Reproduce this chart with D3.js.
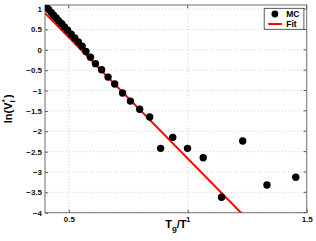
<!DOCTYPE html>
<html>
<head>
<meta charset="utf-8">
<script src="https://cdn.jsdelivr.net/npm/d3@7"></script>
<style>
  body { margin: 0; background: #fff; }
  svg { display: block; font-family: "Liberation Sans", Arial, sans-serif; }
</style>
</head>
<body>
<div id="chart"></div>
<script>
// MC points (Tg/T, ln V)
const mcX = [0.405, 0.415, 0.426, 0.436, 0.447, 0.458, 0.470, 0.482, 0.495, 0.510, 0.525, 0.540,
             0.556, 0.572, 0.591, 0.612, 0.638, 0.665, 0.693, 0.726, 0.759, 0.798, 0.840,
             0.886, 0.937, 0.999, 1.065, 1.142, 1.231, 1.333, 1.454];
const mcY = [1.05, 0.99, 0.92, 0.85, 0.78, 0.71, 0.64, 0.56, 0.48, 0.38, 0.29, 0.19,
             0.09, -0.04, -0.18, -0.34, -0.49, -0.67, -0.84, -1.06, -1.26, -1.46, -1.65,
             -2.42, -2.15, -2.42, -2.65, -3.62, -2.24, -3.32, -3.13];

// linear fit  y = a + b x
const fitA = 3.28;
const fitB = -5.95;
const fitRange = [0.4, 1.5];

const xTicks = [0.5, 1, 1.5];
const yTicks = [-4, -3.5, -3, -2.5, -2, -1.5, -1, -0.5, 0, 0.5, 1];

const width = 316, height = 241;
const margin = { top: 5, right: 9.3, bottom: 28.3, left: 45 };
const iw = width - margin.left - margin.right;
const ih = height - margin.top - margin.bottom;

const svg = d3.select("#chart").append("svg")
    .attr("width", width)
    .attr("height", height);

const x = d3.scaleLinear().domain([0.4, 1.5]).range([0, iw]);
const y = d3.scaleLinear().domain([-4, 1.1]).range([ih, 0]);

const g = svg.append("g").attr("transform", `translate(${margin.left},${margin.top})`);

svg.append("defs").append("clipPath").attr("id", "clip")
    .append("rect").attr("width", iw).attr("height", ih);

// grid
g.append("g").selectAll("line")
    .data(xTicks)
    .join("line")
    .attr("x1", d => x(d)).attr("x2", d => x(d))
    .attr("y1", 0).attr("y2", ih)
    .attr("stroke", "#c8c8c8").attr("stroke-width", 0.8)
    .attr("stroke-dasharray", "1,2");

g.append("g").selectAll("line")
    .data(yTicks)
    .join("line")
    .attr("x1", 0).attr("x2", iw)
    .attr("y1", d => y(d)).attr("y2", d => y(d))
    .attr("stroke", "#c8c8c8").attr("stroke-width", 0.8)
    .attr("stroke-dasharray", "1,2");

// axes
const fmt = d => (d < 0 ? "\u2212" + Math.abs(d) : String(d));
const xAxis = g.append("g").attr("transform", `translate(0,${ih})`)
    .call(d3.axisBottom(x).tickValues(xTicks).tickSize(-3).tickPadding(4).tickFormat(fmt));
const yAxis = g.append("g")
    .call(d3.axisLeft(y).tickValues(yTicks).tickSize(-3).tickPadding(3).tickFormat(fmt));
[xAxis, yAxis].forEach(a => {
    a.select(".domain").remove();
    a.selectAll(".tick line").attr("stroke", "#555");
    a.selectAll("text").attr("font-size", 8).attr("font-weight", "bold").attr("fill", "#111");
});
// top/right ticks
g.append("g").selectAll("line").data(xTicks).join("line")
    .attr("x1", d => x(d)).attr("x2", d => x(d)).attr("y1", 0).attr("y2", 3).attr("stroke", "#555");
g.append("g").selectAll("line").data(yTicks).join("line")
    .attr("x1", iw).attr("x2", iw - 3).attr("y1", d => y(d)).attr("y2", d => y(d)).attr("stroke", "#555");

// box
g.append("rect").attr("width", iw).attr("height", ih)
    .attr("fill", "none").attr("stroke", "#6e6e6e").attr("stroke-width", 1);

const plot = g.append("g").attr("clip-path", "url(#clip)");

// fit line
plot.append("line")
    .attr("x1", x(fitRange[0])).attr("y1", y(fitA + fitB * fitRange[0]))
    .attr("x2", x(fitRange[1])).attr("y2", y(fitA + fitB * fitRange[1]))
    .attr("stroke", "#ff0000").attr("stroke-width", 2);

// MC markers
const pts = mcX.map((v, i) => ({ x: v, y: mcY[i] }));
plot.append("g").selectAll("circle")
    .data(pts)
    .join("circle")
    .attr("cx", d => x(d.x))
    .attr("cy", d => y(d.y))
    .attr("r", 3.7)
    .attr("fill", "#000");

// legend
const lg = g.append("g").attr("transform", `translate(${iw - 42.5},3.3)`);
lg.append("rect").attr("width", 39.7).attr("height", 21)
    .attr("fill", "#fff").attr("stroke", "#333").attr("stroke-width", 0.8);
lg.append("circle").attr("cx", 10.7).attr("cy", 5.7).attr("r", 3.4).attr("fill", "#000");
lg.append("line").attr("x1", 4).attr("x2", 17.7).attr("y1", 15.7).attr("y2", 15.7)
    .attr("stroke", "#ff0000").attr("stroke-width", 2);
lg.append("text").attr("x", 22).attr("y", 8.8).text("MC")
    .attr("font-size", 8.5).attr("font-weight", "bold");
lg.append("text").attr("x", 22).attr("y", 18.8).text("Fit")
    .attr("font-size", 8.5).attr("font-weight", "bold");

// axis labels
const xl = svg.append("text")
    .attr("x", margin.left + iw / 2).attr("y", 228)
    .attr("text-anchor", "middle")
    .attr("font-size", 11).attr("font-weight", "bold");
xl.append("tspan").text("T");
xl.append("tspan").attr("font-size", 8).attr("dy", 3).text("g");
xl.append("tspan").attr("dy", -3).text("/T");

const yl = svg.append("text")
    .attr("transform", `translate(12,${margin.top + ih / 2}) rotate(-90)`)
    .attr("text-anchor", "middle")
    .attr("font-size", 11).attr("font-weight", "bold");
yl.append("tspan").text("ln(V");
yl.append("tspan").attr("font-size", 8).attr("dy", 3).text("I");
yl.append("tspan").attr("font-size", 8).attr("dx", -2).attr("dy", -8).text("*");
yl.append("tspan").attr("dx", 1).attr("dy", 5).text(")");
</script>
</body>
</html>
